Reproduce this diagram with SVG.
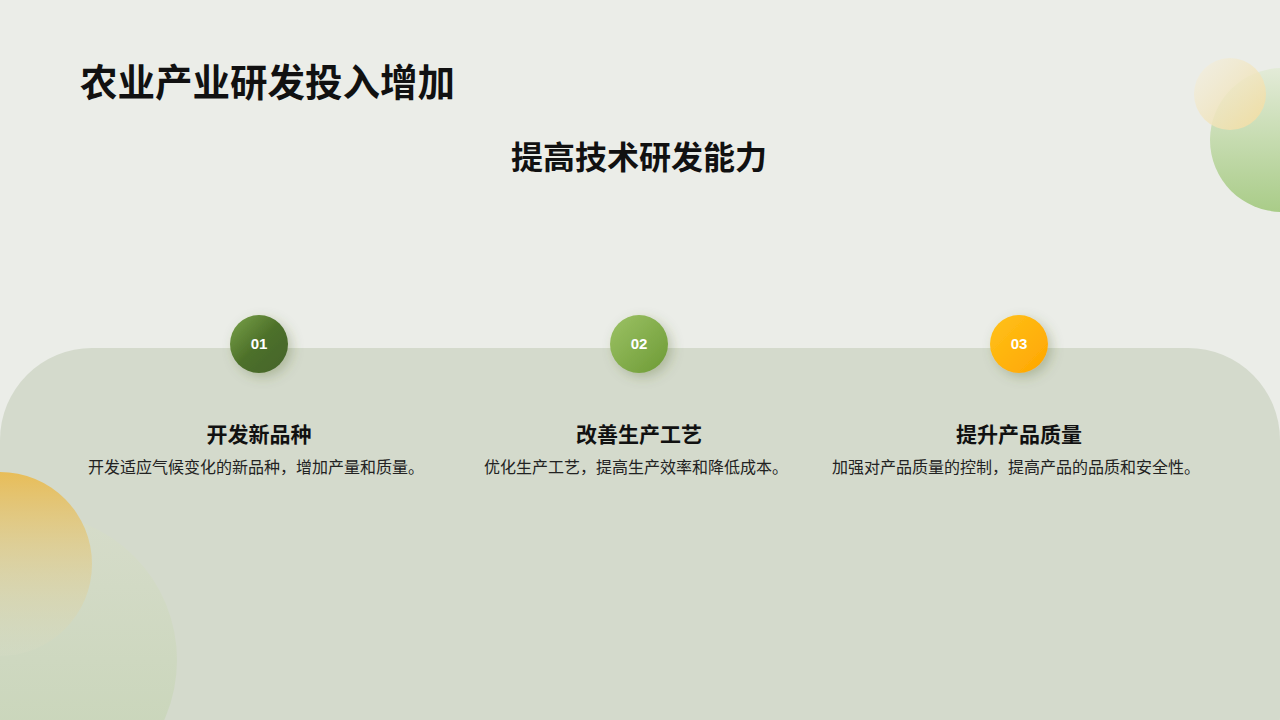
<svg xmlns="http://www.w3.org/2000/svg" width="1280" height="720" viewBox="0 0 1280 720">
<defs>
<linearGradient id="gG" x1="0" y1="0" x2="0" y2="1"><stop offset="0" stop-color="#e3ebd8"/><stop offset="1" stop-color="#a9cc88"/></linearGradient>
<linearGradient id="gY" x1="0" y1="0" x2="1" y2="1"><stop offset="0" stop-color="#f3efe0" stop-opacity="0.6"/><stop offset="1" stop-color="#f0dca0"/></linearGradient>
<linearGradient id="bG" x1="0" y1="0" x2="0" y2="1"><stop offset="0" stop-color="#d6dcca"/><stop offset="1" stop-color="#c6d4b6"/></linearGradient>
<linearGradient id="bY" x1="0" y1="0" x2="0" y2="1"><stop offset="0" stop-color="#e8bd58"/><stop offset="1" stop-color="#d6dcc6" stop-opacity="0.3"/></linearGradient>
<linearGradient id="c1" x1="0" y1="0" x2="1" y2="1"><stop offset="0" stop-color="#7aa34a"/><stop offset="0.5" stop-color="#4d7029"/><stop offset="1" stop-color="#44632a"/></linearGradient>
<linearGradient id="c2" x1="0" y1="0" x2="1" y2="1"><stop offset="0" stop-color="#9cc265"/><stop offset="1" stop-color="#6d9a35"/></linearGradient>
<linearGradient id="c3" x1="0" y1="0" x2="1" y2="1"><stop offset="0" stop-color="#ffc21a"/><stop offset="1" stop-color="#ffa500"/></linearGradient>
<filter id="sh" x="-50%" y="-50%" width="200%" height="200%"><feDropShadow dx="4" dy="4" stdDeviation="6" flood-color="#556b2f" flood-opacity="0.3"/></filter>
</defs>
<style>
.t{font-family:"Liberation Sans","Noto Sans CJK SC",sans-serif;text-anchor:middle}
.h{font-size:21px;font-weight:bold;fill:#111}
.d{font-size:16px;fill:#222}
.n{font-size:15px;font-weight:bold;fill:#fff}
</style>
<rect width="1280" height="720" fill="#ebede8"/>
<circle cx="1282" cy="140" r="72" fill="url(#gG)"/>
<circle cx="1230" cy="94" r="36" fill="url(#gY)"/>
<rect x="0" y="348" width="1280" height="460" rx="92" fill="#d4dacc"/>
<circle cx="30" cy="660" r="147" fill="url(#bG)"/>
<circle cx="0" cy="564" r="92" fill="url(#bY)"/>
<text x="80" y="96" font-family="Liberation Sans,Noto Sans CJK SC,sans-serif" font-size="37.5" font-weight="bold" fill="#111">农业产业研发投入增加</text>
<text class="t" x="639" y="169" font-size="32" font-weight="bold" fill="#111">提高技术研发能力</text>
<g id="node1"><circle cx="259" cy="344" r="29" fill="url(#c1)" filter="url(#sh)"/><text class="t n" x="259" y="349">01</text>
<text class="t h" x="259" y="442">开发新品种</text><text class="t d" x="256" y="473">开发适应气候变化的新品种，增加产量和质量。</text></g>
<g id="node2"><circle cx="639" cy="344" r="29" fill="url(#c2)" filter="url(#sh)"/><text class="t n" x="639" y="349">02</text>
<text class="t h" x="639" y="442">改善生产工艺</text><text class="t d" x="636" y="473">优化生产工艺，提高生产效率和降低成本。</text></g>
<g id="node3"><circle cx="1019" cy="344" r="29" fill="url(#c3)" filter="url(#sh)"/><text class="t n" x="1019" y="349">03</text>
<text class="t h" x="1019" y="442">提升产品质量</text><text class="t d" x="1016" y="473">加强对产品质量的控制，提高产品的品质和安全性。</text></g>
<g id="connectors"/>
</svg>
